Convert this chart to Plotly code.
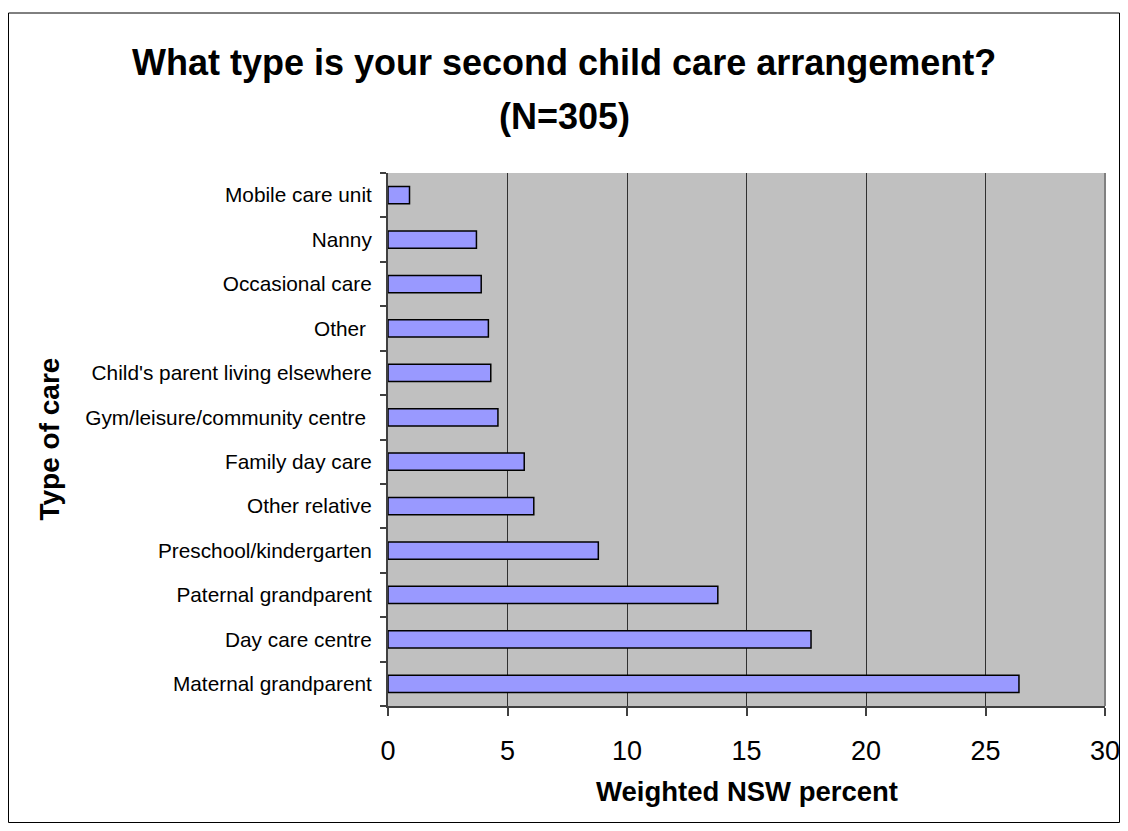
import plotly.graph_objects as go

categories = [
    "Maternal grandparent",
    "Day care centre",
    "Paternal grandparent",
    "Preschool/kindergarten",
    "Other relative",
    "Family day care",
    "Gym/leisure/community centre ",
    "Child's parent living elsewhere",
    "Other ",
    "Occasional care",
    "Nanny",
    "Mobile care unit",
]
values = [26.4, 17.7, 13.8, 8.8, 6.1, 5.7, 4.6, 4.3, 4.2, 3.9, 3.7, 0.9]
x_ticks = [0, 5, 10, 15, 20, 25, 30]
title_lines = ["What type is your second child care arrangement?", "(N=305)"]

# figure is drawn inside the page body (8px default body margin)
W, H = 1112, 815
ML, MR, MT, MB = 380, 15, 165, 117
PW, PH = W - ML - MR, H - MT - MB

FONT = "Arial, 'Liberation Sans', sans-serif"


def fx(px):
    return (px - ML) / PW


def fy(py):
    return (H - MB - py) / PH


fig = go.Figure(
    go.Bar(
        x=values,
        y=categories,
        orientation="h",
        marker=dict(color="#9999FF", line=dict(color="#000000", width=1.5)),
        width=0.39,
        hoverinfo="x+y",
    )
)

title_font = dict(size=36, family=FONT, color="black")

fig.update_layout(
    width=W,
    height=H,
    margin=dict(l=ML, r=MR, t=MT, b=MB, autoexpand=False),
    paper_bgcolor="white",
    plot_bgcolor="#C0C0C0",
    showlegend=False,
    font=dict(family=FONT, color="black"),
    xaxis=dict(
        range=[0, 30],
        tickvals=x_ticks,
        ticks="outside",
        ticklen=8,
        tickcolor="#404040",
        tickwidth=1.5,
        showgrid=True,
        gridcolor="#303030",
        gridwidth=1,
        showline=True,
        linecolor="#404040",
        linewidth=2,
        zeroline=False,
        tickfont=dict(size=27, family=FONT, color="black"),
        ticklabelstandoff=12,
        ticklabeloverflow="allow",
        automargin=False,
        fixedrange=True,
    ),
    yaxis=dict(
        type="category",
        categoryorder="array",
        categoryarray=categories,
        tickson="boundaries",
        ticks="outside",
        ticklen=6,
        tickcolor="#404040",
        tickwidth=1.5,
        showgrid=False,
        showline=True,
        linecolor="#404040",
        linewidth=2,
        tickfont=dict(size=20.8, family=FONT, color="black"),
        ticklabelstandoff=10,
        automargin=False,
        fixedrange=True,
    ),
    annotations=[
        dict(
            text="<b>" + title_lines[0] + "</b>",
            xref="paper", yref="paper",
            x=fx(W / 2), y=fy(55),
            xanchor="center", yanchor="middle",
            showarrow=False,
            font=title_font,
        ),
        dict(
            text="<b>" + title_lines[1] + "</b>",
            xref="paper", yref="paper",
            x=fx(W / 2), y=fy(108),
            xanchor="center", yanchor="middle",
            showarrow=False,
            font=title_font,
        ),
        dict(
            text="<b>Weighted NSW percent</b>",
            xref="paper", yref="paper",
            x=0.5, y=fy(783),
            xanchor="center", yanchor="middle",
            showarrow=False,
            font=dict(size=27.5, family=FONT, color="black"),
        ),
        dict(
            text="<b>Type of care</b>",
            xref="paper", yref="paper",
            x=fx(41), y=0.5,
            xanchor="center", yanchor="middle",
            textangle=-90,
            showarrow=False,
            font=dict(size=28, family=FONT, color="black"),
        ),
    ],
    shapes=[
        dict(type="line", xref="paper", yref="paper", x0=1, x1=1, y0=0, y1=1,
             line=dict(color="#808080", width=2)),
        dict(type="rect", xref="paper", yref="paper",
             x0=fx(0.5), x1=fx(W - 0.5),
             y0=fy(H - 0.5), y1=fy(5),
             line=dict(color="#000000", width=1), fillcolor="rgba(0,0,0,0)",
             layer="below"),
    ],
)

fig.write_html("out.html")
